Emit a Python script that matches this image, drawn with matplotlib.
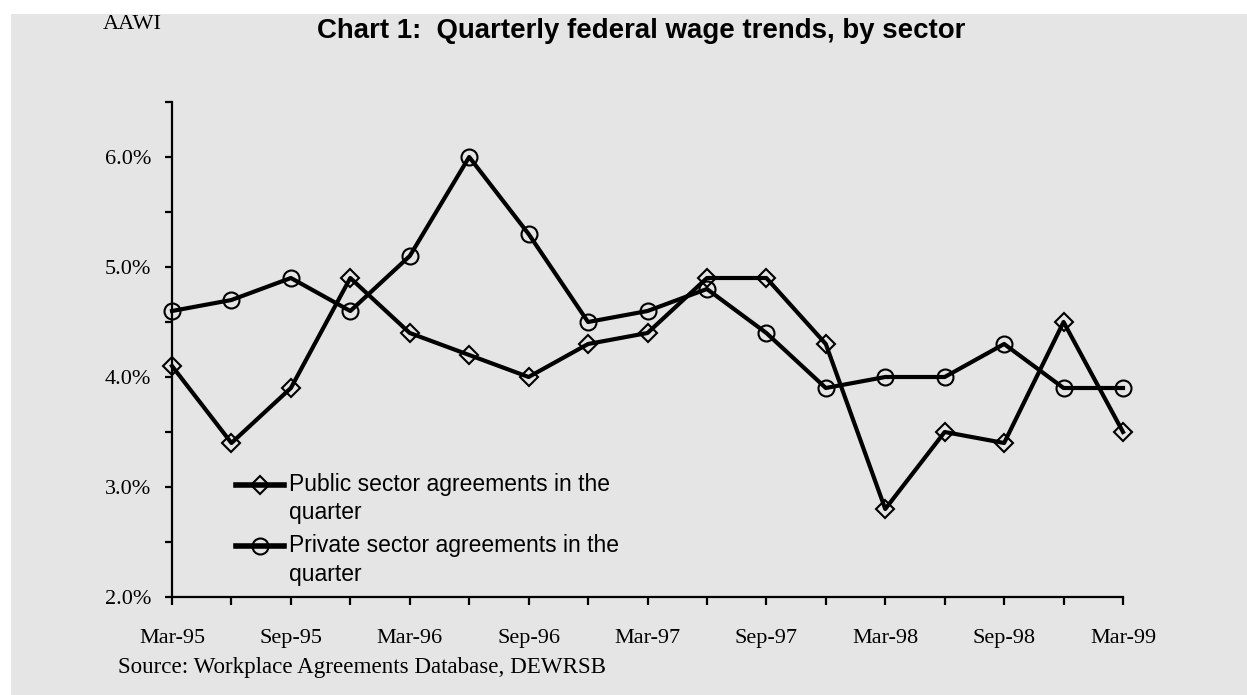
import matplotlib.pyplot as plt
from matplotlib.patches import Rectangle
from matplotlib.ticker import FixedLocator, MultipleLocator
from matplotlib.transforms import Affine2D

quarters = ['Mar-95', 'Jun-95', 'Sep-95', 'Dec-95', 'Mar-96', 'Jun-96', 'Sep-96', 'Dec-96',
            'Mar-97', 'Jun-97', 'Sep-97', 'Dec-97', 'Mar-98', 'Jun-98', 'Sep-98', 'Dec-98', 'Mar-99']
public = [4.1, 3.4, 3.9, 4.9, 4.4, 4.2, 4.0, 4.3, 4.4, 4.9, 4.9, 4.3, 2.8, 3.5, 3.4, 4.5, 3.5]
private = [4.6, 4.7, 4.9, 4.6, 5.1, 6.0, 5.3, 4.5, 4.6, 4.8, 4.4, 3.9, 4.0, 4.0, 4.3, 3.9, 3.9]
ytick_labels = ['2.0%', '3.0%', '4.0%', '5.0%', '6.0%']

serif = 'Liberation Serif'
sans = 'Liberation Sans'

fig = plt.figure(figsize=(12.47, 6.95), dpi=100)
fig.patch.set_facecolor('white')
# grey panel behind everything
fig.patches.append(Rectangle((11 / 1247, 0), 1, 1 - 14 / 695, transform=fig.transFigure,
                             facecolor='#e5e5e5', edgecolor='none', zorder=-10))

ax = fig.add_axes([172 / 1247, 1 - 597 / 695, (1123 - 172) / 1247, (597 - 102) / 695])
ax.set_facecolor('none')

x = list(range(len(quarters)))
ax.plot(x, public, color='black', lw=3, marker='D', ms=9, mfc='none', mec='black', mew=1.5,
        label='Public sector agreements in the\nquarter', clip_on=False)
ax.plot(x, private, color='black', lw=3, marker='o', ms=11.5, mfc='none', mec='black', mew=1.5,
        label='Private sector agreements in the\nquarter', clip_on=False)

ax.set_xlim(0, len(quarters) - 1)
ax.set_ylim(2.0, 6.5)

for s in ['top', 'right']:
    ax.spines[s].set_visible(False)
for s in ['left', 'bottom']:
    ax.spines[s].set_linewidth(1.6)
    ax.spines[s].set_color('black')

ax.xaxis.set_major_locator(FixedLocator(x))
ax.set_xticklabels([q if i % 2 == 0 else '' for i, q in enumerate(quarters)],
                   fontfamily=serif, fontsize=16)
ax.tick_params(axis='x', direction='out', length=6, width=1.6, pad=17)

ax.yaxis.set_major_locator(FixedLocator([2, 3, 4, 5, 6]))
ax.set_yticklabels(ytick_labels, fontfamily=serif, fontsize=16)
ax.yaxis.set_minor_locator(MultipleLocator(0.5))
ax.tick_params(axis='y', which='both', direction='out', length=5, width=1.6, pad=10)

leg = ax.legend(loc='upper left', bbox_to_anchor=(0.058, 0.27), frameon=False,
                prop={'family': sans, 'size': 16.5}, handlelength=2.1, handletextpad=0.2,
                labelspacing=0.45, borderaxespad=0)
for t in leg.get_texts():
    t.set_linespacing(1.3)
# handles sit level with the first line of each label
for h in leg.legend_handles:
    h.set_linewidth(4)
    h.set_transform(Affine2D().translate(0, 10.5) + h.get_transform())

fig.text(0.514, 0.955, 'Chart 1:  Quarterly federal wage trends, by sector', ha='center', va='center',
         fontfamily=sans, fontweight='bold', fontsize=19.9)
fig.text(103 / 1247, 0.965, 'AAWI', ha='left', va='center', fontfamily=serif, fontsize=16)
fig.text(118 / 1247, 0.039, 'Source: Workplace Agreements Database, DEWRSB', ha='left', va='center',
         fontfamily=serif, fontsize=16.6)

fig.savefig('out.png', dpi=100)
